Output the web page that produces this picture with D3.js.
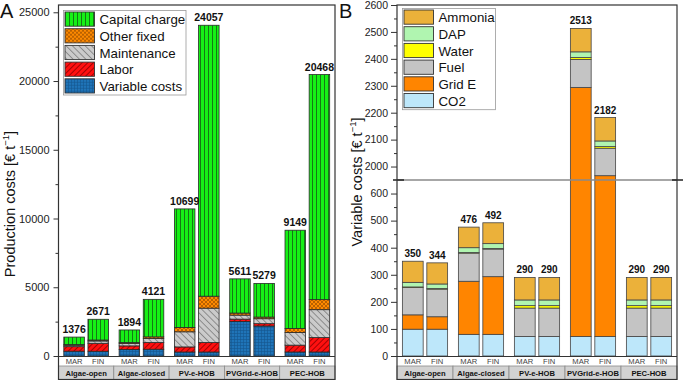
<!DOCTYPE html>
<html>
<head>
<meta charset="utf-8">
<script src="https://cdn.jsdelivr.net/npm/d3@7"></script>
<style>
  body { margin: 0; background: #fff; }
  text { font-family: "Liberation Sans", Arial, sans-serif; }
</style>
</head>
<body>
<div id="chart"></div>
<script>
// categories
var groups = ["Algae-open", "Algae-closed", "PV-e-HOB", "PVGrid-e-HOB", "PEC-HOB"];
var cases = ["MAR", "FIN"];

// Panel A - production costs, one value per bar (group x case, MAR then FIN)
var variableCosts = [350, 344, 476, 492, 290, 290, 2513, 2182, 290, 290];
var labor = [330, 580, 260, 490, 370, 690, 170, 170, 500, 1050];
var maintenance = [100, 170, 170, 290, 1100, 2500, 290, 360, 920, 2030];
var otherFixed = [50, 70, 70, 120, 320, 870, 150, 120, 290, 730];
var capitalCharge = [546, 1507, 918, 2729, 8619, 19707, 2488, 2447, 7149, 16368];

// Panel B - variable costs
var co2 = [99, 99, 80, 80, 72, 72, 72, 72, 72, 72];
var gridE = [53, 46, 196, 213, 0, 0, 2222, 1894, 0, 0];
var fuel = [101, 102, 104, 102, 105, 105, 104, 102, 105, 105];
var water = [2, 2, 2, 2, 9, 9, 7, 6, 9, 9];
var dap = [17, 17, 18, 18, 21, 21, 21, 21, 21, 21];
var ammonia = [78, 78, 76, 77, 83, 83, 87, 87, 83, 83];

// tick values
var ticksA = [0, 5000, 10000, 15000, 20000, 25000];
var minorA = [2500, 7500, 12500, 17500, 22500];
var ticksBLow = [0, 100, 200, 300, 400, 500, 600];
var minorBLow = [50, 150, 250, 350, 450, 550];
var ticksBHigh = [2000, 2100, 2200, 2300, 2400, 2500, 2600];
var minorBHigh = [2050, 2150, 2250, 2350, 2450, 2550];

function init() {
  var w = 683;
  var h = 380;
  var frameTop = 5;
  var baseY = 356;
  var bottom = 379.5;
  var fmt = d3.format("d");

  var svg = d3.select("#chart")
    .append("svg")
    .attr("width", w)
    .attr("height", h);

  var defs = svg.append("defs");

  //Patterns for panel A
  function linePattern(id, bg, stroke, size, angle) {
    var p = defs.append("pattern")
      .attr("id", id)
      .attr("patternUnits", "userSpaceOnUse")
      .attr("width", size)
      .attr("height", size)
      .attr("patternTransform", "rotate(" + angle + ")");
    p.append("rect").attr("width", size).attr("height", size).attr("fill", bg);
    p.append("line")
      .attr("x1", 0.5).attr("x2", 0.5)
      .attr("y1", 0).attr("y2", size)
      .attr("stroke", stroke)
      .attr("stroke-width", 0.8);
  }
  linePattern("pCapital", "#16f016", "#145a14", 4, 0);
  linePattern("pMaint", "#cbcbcb", "#7a7a7a", 4.5, -45);
  linePattern("pLabor", "#ff1010", "#8a0000", 4, 45);

  var po = defs.append("pattern")
    .attr("id", "pOther")
    .attr("patternUnits", "userSpaceOnUse")
    .attr("width", 4).attr("height", 4);
  po.append("rect").attr("width", 4).attr("height", 4).attr("fill", "#ff8a00");
  po.append("path").attr("d", "M0,0L4,4M4,0L0,4")
    .attr("stroke", "#8a4500").attr("stroke-width", 0.6);

  var pv = defs.append("pattern")
    .attr("id", "pVar")
    .attr("patternUnits", "userSpaceOnUse")
    .attr("width", 3).attr("height", 3);
  pv.append("rect").attr("width", 3).attr("height", 3).attr("fill", "#1f74b8");
  pv.append("path").attr("d", "M0,0.5H3M0.5,0V3")
    .attr("stroke", "#14568e").attr("stroke-width", 0.6);

  var fillA = {
    variable: "url(#pVar)",
    labor: "url(#pLabor)",
    maintenance: "url(#pMaint)",
    other: "url(#pOther)",
    capital: "url(#pCapital)"
  };
  var fillB = {
    co2: "#bde7fa",
    gridE: "#ff8500",
    fuel: "#c4c4c4",
    water: "#ffff00",
    dap: "#b0f5b0",
    ammonia: "#ebb13a"
  };

  //Build tables
  var tableA = [];
  var tableB = [];
  groups.forEach(function (g, gi) {
    cases.forEach(function (c, ci) {
      var i = gi * 2 + ci;
      tableA.push({ group: g, kase: c, variable: variableCosts[i], labor: labor[i],
        maintenance: maintenance[i], other: otherFixed[i], capital: capitalCharge[i] });
      tableB.push({ group: g, kase: c, co2: co2[i], gridE: gridE[i], fuel: fuel[i],
        water: water[i], dap: dap[i], ammonia: ammonia[i] });
    });
  });
  var keysA = ["variable", "labor", "maintenance", "other", "capital"];
  var keysB = ["co2", "gridE", "fuel", "water", "dap", "ammonia"];

  // ---------------- Panel A ----------------
  var ax0 = 58.5, ax1 = 335;
  var xGroupA = d3.scaleBand().domain(groups).range([ax0, ax1]);
  var xCaseA = d3.scaleBand().domain(cases)
    .range([0, xGroupA.bandwidth()])
    .paddingInner(0.15)
    .paddingOuter(0.22);
  var yA = d3.scaleLinear().domain([0, 25530]).range([baseY, frameTop]);

  var stackA = d3.stack().keys(keysA)(tableA);
  svg.append("g").selectAll("g")
    .data(stackA)
    .enter()
    .append("g")
    .attr("fill", function (d) { return fillA[d.key]; })
    .selectAll("rect")
    .data(function (d) { return d; })
    .enter()
    .append("rect")
    .attr("x", function (d) { return xGroupA(d.data.group) + xCaseA(d.data.kase); })
    .attr("y", function (d) { return yA(d[1]); })
    .attr("width", xCaseA.bandwidth())
    .attr("height", function (d) { return yA(d[0]) - yA(d[1]); })
    .attr("stroke", "#2a2a2a")
    .attr("stroke-width", 0.8);

  svg.append("g").selectAll("text")
    .data(tableA)
    .enter()
    .append("text")
    .attr("x", function (d) { return xGroupA(d.group) + xCaseA(d.kase) + xCaseA.bandwidth() / 2; })
    .attr("y", function (d) { return yA(d3.sum(keysA, function (k) { return d[k]; })) - 4; })
    .attr("text-anchor", "middle")
    .attr("font-size", "10.5px")
    .attr("font-weight", "bold")
    .attr("fill", "#111")
    .text(function (d) { return d3.sum(keysA, function (k) { return d[k]; }); });

  var axA = svg.append("g").attr("transform", "translate(" + ax0 + ",0)")
    .call(d3.axisLeft(yA).tickValues(ticksA).tickFormat(fmt).tickSize(5).tickPadding(4));
  svg.append("g").attr("transform", "translate(" + ax0 + ",0)")
    .call(d3.axisLeft(yA).tickValues(minorA).tickSize(3).tickFormat(""));

  drawFrame(ax0, ax1, xGroupA, xCaseA);

  // ---------------- Panel B ----------------
  var bx0 = 397, bx1 = 677;
  var breakY = 180;
  var xGroupB = d3.scaleBand().domain(groups).range([bx0, bx1]);
  var xCaseB = d3.scaleBand().domain(cases)
    .range([0, xGroupB.bandwidth()])
    .paddingInner(0.15)
    .paddingOuter(0.22);
  var yLow = d3.scaleLinear().domain([0, 650]).range([baseY, breakY]);
  var yHigh = d3.scaleLinear().domain([1950, 2600]).range([breakY, frameTop]);
  function yB(v) {
    if (v <= 650) return yLow(v);
    if (v >= 1950) return yHigh(v);
    return breakY;
  }

  var stackB = d3.stack().keys(keysB)(tableB);
  svg.append("g").selectAll("g")
    .data(stackB)
    .enter()
    .append("g")
    .attr("fill", function (d) { return fillB[d.key]; })
    .selectAll("rect")
    .data(function (d) { return d.filter(function (s) { return s[1] > s[0]; }); })
    .enter()
    .append("rect")
    .attr("x", function (d) { return xGroupB(d.data.group) + xCaseB(d.data.kase); })
    .attr("y", function (d) { return yB(d[1]); })
    .attr("width", xCaseB.bandwidth())
    .attr("height", function (d) { return yB(d[0]) - yB(d[1]); })
    .attr("stroke", "#444")
    .attr("stroke-width", 0.8);

  svg.append("g").selectAll("text")
    .data(tableB)
    .enter()
    .append("text")
    .attr("x", function (d) { return xGroupB(d.group) + xCaseB(d.kase) + xCaseB.bandwidth() / 2; })
    .attr("y", function (d) { return yB(d3.sum(keysB, function (k) { return d[k]; })) - 4; })
    .attr("text-anchor", "middle")
    .attr("font-size", "10px")
    .attr("font-weight", "bold")
    .attr("fill", "#111")
    .text(function (d) { return d3.sum(keysB, function (k) { return d[k]; }); });

  var axesB = svg.append("g").attr("class", "axesB");
  axesB.append("g").attr("transform", "translate(" + bx0 + ",0)")
    .call(d3.axisLeft(yLow).tickValues(ticksBLow).tickFormat(fmt).tickSize(6).tickPadding(3));
  axesB.append("g").attr("transform", "translate(" + bx0 + ",0)")
    .call(d3.axisLeft(yLow).tickValues(minorBLow).tickSize(3).tickFormat(""));
  axesB.append("g").attr("transform", "translate(" + bx0 + ",0)")
    .call(d3.axisLeft(yHigh).tickValues(ticksBHigh).tickFormat(fmt).tickSize(6).tickPadding(3));
  axesB.append("g").attr("transform", "translate(" + bx0 + ",0)")
    .call(d3.axisLeft(yHigh).tickValues(minorBHigh).tickSize(3).tickFormat(""));

  //axis break line
  svg.append("line")
    .attr("x1", bx0).attr("x2", bx1)
    .attr("y1", breakY).attr("y2", breakY)
    .attr("stroke", "#8a8a8a").attr("stroke-width", 1.5);
  svg.append("line")
    .attr("x1", bx0 - 4).attr("x2", bx0 + 7)
    .attr("y1", breakY).attr("y2", breakY)
    .attr("stroke", "#222").attr("stroke-width", 1.5);
  svg.append("line")
    .attr("x1", bx1 - 5).attr("x2", w)
    .attr("y1", breakY).attr("y2", breakY)
    .attr("stroke", "#222").attr("stroke-width", 1.5);

  drawFrame(bx0, bx1, xGroupB, xCaseB);

  //Tick styling
  svg.selectAll(".tick line").attr("stroke", "#333");
  svg.selectAll(".domain").remove();
  svg.selectAll(".tick text").attr("fill", "#222").style("font-family", "Liberation Sans, Arial, sans-serif");
  axA.selectAll(".tick text").attr("font-size", "11px");
  axesB.selectAll(".tick text").attr("font-size", "10.5px");

  // ---------------- Frames, labels ----------------
  function drawFrame(x0, x1, xg, xc) {
    var f = svg.append("g");
    // grey group-label strip
    f.selectAll("rect.cell")
      .data(groups)
      .enter()
      .append("rect")
      .attr("x", function (d) { return xg(d); })
      .attr("y", 366)
      .attr("width", xg.bandwidth())
      .attr("height", bottom - 366)
      .attr("fill", "#d2d2d2")
      .attr("stroke", "#8a8a8a")
      .attr("stroke-width", 0.8);
    f.selectAll("text.grp")
      .data(groups)
      .enter()
      .append("text")
      .attr("x", function (d) { return xg(d) + xg.bandwidth() / 2; })
      .attr("y", 376)
      .attr("text-anchor", "middle")
      .attr("font-size", "7.6px")
      .attr("font-weight", "bold")
      .attr("fill", "#111")
      .text(function (d) { return d; });
    // MAR / FIN labels
    groups.forEach(function (g) {
      f.selectAll(null)
        .data(cases)
        .enter()
        .append("text")
        .attr("x", function (c) { return xg(g) + xc(c) + xc.bandwidth() / 2; })
        .attr("y", 364)
        .attr("text-anchor", "middle")
        .attr("font-size", "7.6px")
        .attr("fill", "#444")
        .text(function (c) { return c; });
    });
    // outer frame and x axis line
    f.append("rect")
      .attr("x", x0).attr("y", frameTop)
      .attr("width", x1 - x0).attr("height", bottom - frameTop)
      .attr("fill", "none")
      .attr("stroke", "#333")
      .attr("stroke-width", 1.2);
    f.append("line")
      .attr("x1", x0).attr("x2", x1)
      .attr("y1", baseY + 0.5).attr("y2", baseY + 0.5)
      .attr("stroke", "#333")
      .attr("stroke-width", 1.2);
  }

  //Legends
  function legend(x, y, wBox, items) {
    var lg = svg.append("g");
    lg.append("rect")
      .attr("x", x).attr("y", y)
      .attr("width", wBox).attr("height", items.length * 16.7 + 1)
      .attr("fill", "#fff")
      .attr("stroke", "#9a9a9a")
      .attr("stroke-width", 0.8);
    var row = lg.selectAll("g")
      .data(items)
      .enter()
      .append("g")
      .attr("transform", function (d, i) { return "translate(" + (x + 1.5) + "," + (y + 1.5 + i * 16.7) + ")"; });
    row.append("rect")
      .attr("width", 29.5).attr("height", 14.2)
      .attr("fill", function (d) { return d[1]; })
      .attr("stroke", "#333")
      .attr("stroke-width", 0.9);
    row.append("text")
      .attr("x", 34.5).attr("y", 12.3)
      .attr("font-size", "13.3px")
      .attr("fill", "#111")
      .text(function (d) { return d[0]; });
  }
  legend(63.5, 10.5, 122.5, [
    ["Capital charge", fillA.capital],
    ["Other fixed", fillA.other],
    ["Maintenance", fillA.maintenance],
    ["Labor", fillA.labor],
    ["Variable costs", fillA.variable]
  ]);
  legend(402.5, 8.5, 93, [
    ["Ammonia", fillB.ammonia],
    ["DAP", fillB.dap],
    ["Water", fillB.water],
    ["Fuel", fillB.fuel],
    ["Grid E", fillB.gridE],
    ["CO2", fillB.co2]
  ]);

  //Axis titles
  function yTitle(x, y, label) {
    var t = svg.append("text")
      .attr("transform", "translate(" + x + "," + y + ") rotate(-90)")
      .attr("text-anchor", "middle")
      .attr("font-size", "14.5px")
      .attr("fill", "#111");
    t.append("tspan").text(label + " [€ t");
    t.append("tspan").attr("font-size", "9.5px").attr("dy", "-6").text("−1");
    t.append("tspan").attr("dy", "6").text("]");
  }
  yTitle(15, 204, "Production costs");
  yTitle(362, 182, "Variable costs");

  //Panel letters
  svg.append("text").attr("x", 0).attr("y", 18).attr("font-size", "20px").attr("fill", "#111").text("A");
  svg.append("text").attr("x", 339).attr("y", 18).attr("font-size", "20px").attr("fill", "#111").text("B");
}

window.onload = init;
</script>
</body>
</html>
